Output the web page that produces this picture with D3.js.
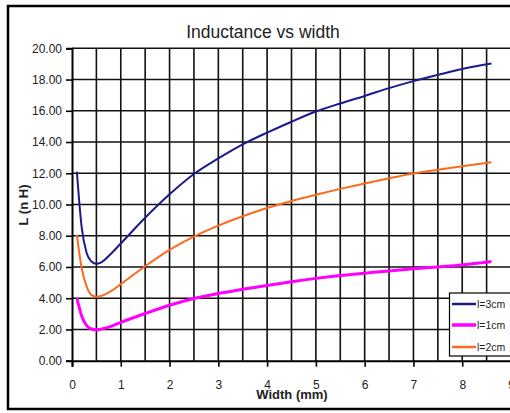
<!DOCTYPE html>
<html>
<head>
<meta charset="utf-8">
<script src="https://cdn.jsdelivr.net/npm/d3@7"></script>
<style>
  body { margin:0; background:#fff; }
  svg { display:block; font-family:"Liberation Sans", Arial, sans-serif; }
</style>
</head>
<body>
<svg id="chart" width="510" height="413"></svg>
<script>
// ---- data ----
var widthMM = [0.1,0.2,0.3,0.4,0.5,0.6,0.8,1,1.5,2,2.5,3,3.5,4,4.5,5,5.5,6,6.5,7,7.5,8,8.6]
var l3cm = [12.1,8.5,6.9,6.35,6.2,6.3,6.85,7.5,9.15,10.65,11.95,12.95,13.85,14.6,15.3,15.95,16.47,16.95,17.45,17.9,18.3,18.68,19.02]
var l1cm = [4.0,2.85,2.25,2.03,1.98,2.02,2.2,2.45,3.02,3.55,3.98,4.3,4.57,4.82,5.05,5.27,5.45,5.6,5.75,5.88,6.0,6.13,6.35]
var l2cm = [8.06,5.9,4.75,4.2,4.1,4.15,4.45,4.9,6.05,7.1,7.95,8.65,9.25,9.78,10.22,10.62,11.0,11.35,11.68,11.98,12.22,12.45,12.7]
var seriesNames = ["l=3cm","l=1cm","l=2cm"]
var seriesColors = ["#1a1a8c","#ff00ff","#ff6a1a"]
var seriesWidths = [2,3,2]
var xTicks = [0,1,2,3,4,5,6,7,8,9]
var yTicks = [0,2,4,6,8,10,12,14,16,18,20]

var svg = d3.select("#chart")

//---outer frame---
svg.append("rect")
  .attr("x",8).attr("y",6)
  .attr("width",520).attr("height",403)
  .attr("fill","none")
  .attr("stroke","black")
  .attr("stroke-width",2.5)

var plotLeft=72, plotRight=511, plotTop=48.3, plotBottom=360.7

var xScale = d3.scaleLinear().domain([0,9]).range([plotLeft,plotRight])
var yScale = d3.scaleLinear().domain([0,20]).range([plotBottom,plotTop])

//---gridlines---
var gridG = svg.append("g")
  .attr("stroke","#111")
  .attr("stroke-width",1.6)

gridG.selectAll("line.v")
  .data(d3.range(0.5,9.01,0.5))
  .enter().append("line")
  .attr("x1",function(d){return xScale(d)})
  .attr("x2",function(d){return xScale(d)})
  .attr("y1",plotTop).attr("y2",plotBottom)

gridG.selectAll("line.h")
  .data(yTicks.slice(1))
  .enter().append("line")
  .attr("x1",plotLeft).attr("x2",plotRight)
  .attr("y1",function(d){return yScale(d)})
  .attr("y2",function(d){return yScale(d)})

//---axes---
var yAxis = svg.append("g")
  .attr("transform","translate("+plotLeft+",0)")
  .call(d3.axisLeft(yScale).tickValues(yTicks).tickSize(6).tickPadding(4)
    .tickFormat(d3.format(".2f")))
var xAxis = svg.append("g")
  .attr("transform","translate(0,"+plotBottom+")")
  .call(d3.axisBottom(xScale).tickValues(xTicks).tickSize(6).tickPadding(14)
    .tickFormat(d3.format("d")))

;[yAxis,xAxis].forEach(function(ax){
  ax.select(".domain").attr("stroke","black").attr("stroke-width",2)
  ax.selectAll(".tick line").attr("stroke","black").attr("stroke-width",1.6)
  ax.selectAll("text")
    .attr("font-family","Liberation Sans, Arial, sans-serif")
    .attr("font-size","12px")
    .attr("fill","#222")
})

//---series---
var allSeries = [l3cm,l1cm,l2cm]
var line = d3.line()
  .x(function(d,i){return xScale(widthMM[i])})
  .y(function(d){return yScale(d)})
  .curve(d3.curveMonotoneX)

allSeries.forEach(function(s,k){
  svg.append("path")
    .datum(s)
    .attr("fill","none")
    .attr("stroke",seriesColors[k])
    .attr("stroke-width",seriesWidths[k])
    .attr("d",line)
})

//---titles---
svg.append("text")
  .attr("x",263).attr("y",38)
  .attr("text-anchor","middle")
  .attr("font-size","17.5px")
  .attr("fill","#222")
  .text("Inductance vs width")

svg.append("text")
  .attr("transform","translate(28 205)rotate(-90)")
  .attr("text-anchor","middle")
  .attr("font-size","13px")
  .attr("font-weight","bold")
  .attr("fill","#222")
  .text("L (n H)")

svg.append("text")
  .attr("x",292).attr("y",399)
  .attr("text-anchor","middle")
  .attr("font-size","13px")
  .attr("font-weight","bold")
  .attr("fill","#222")
  .text("Width (mm)")

//---legend---
var legG = svg.append("g")
legG.append("rect")
  .attr("x",449.5).attr("y",293)
  .attr("width",70).attr("height",63)
  .attr("fill","white")
  .attr("stroke","black")
  .attr("stroke-width",1.2)

var legY = [304,325,347]
seriesNames.forEach(function(name,k){
  legG.append("line")
    .attr("x1",452).attr("x2",476)
    .attr("y1",legY[k]).attr("y2",legY[k])
    .attr("stroke",seriesColors[k])
    .attr("stroke-width",seriesWidths[k]+0.5)
  legG.append("text")
    .attr("x",477).attr("y",legY[k]+4)
    .attr("font-size","10.5px")
    .attr("fill","#222")
    .text(name)
})
</script>
</body>
</html>
